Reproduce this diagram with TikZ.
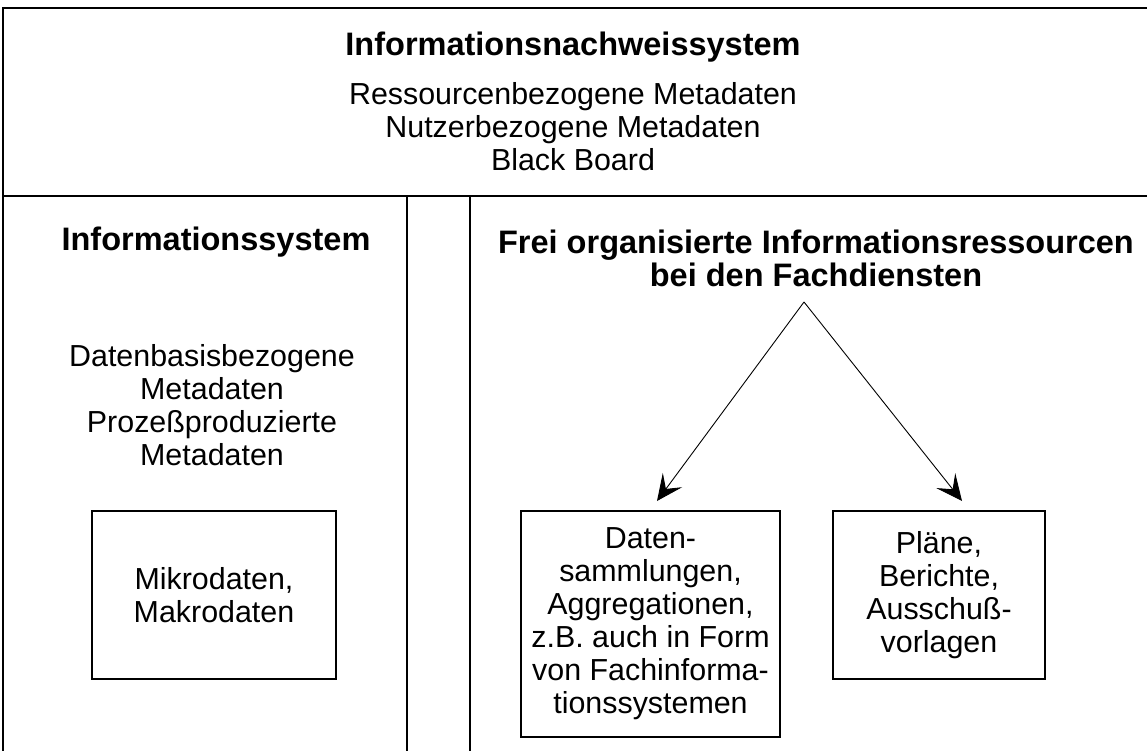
\documentclass[tikz,border=0pt]{standalone}
\usepackage{fontspec}
\setmainfont{Liberation Sans}
\usetikzlibrary{arrows.meta}
\begin{document}
\begin{tikzpicture}[x=1pt,y=-1pt,
  frame/.style={line width=1.4pt},
  txt/.style={inner sep=0pt,align=center,font=\fontsize{30.4}{33}\selectfont},
  btxt/.style={inner sep=0pt,align=center,font=\fontsize{32.5}{33}\selectfont\bfseries},
  boxnode/.style={draw,line width=1.3pt,inner sep=0pt,align=center,font=\fontsize{30.4}{33}\selectfont},
  arr/.style={line width=0.9pt,-{Stealth[length=26pt,width=24pt,inset=11pt]}}]
\useasboundingbox (0,0) rectangle (1147,751);
% frame
\draw[frame] (1147,8) -- (3,8) -- (3,751);
\draw[frame] (3,196) -- (1147,196);
\draw[frame] (407,196) -- (407,751);
\draw[frame] (470,196) -- (470,751);
% top
\node[btxt] (title) at (573,47) {Informationsnachweissystem};
\node[txt] (meta) at (573,127) {Ressourcenbezogene Metadaten\\Nutzerbezogene Metadaten\\Black Board};
% left
\node[btxt] (is) at (216,242) {Informationssystem};
\node[txt] (isMeta) at (212,405) {Datenbasisbezogene\\Metadaten\\Prozeßproduzierte\\Metadaten};
\node[boxnode,minimum width=244pt,minimum height=168pt] (mikro) at (214,595) {Mikrodaten,\\Makrodaten};
% right
\node[btxt] (frei) at (816,258) {Frei organisierte Informationsressourcen\\bei den Fachdiensten};
\coordinate (apex) at (804,302);
\node[boxnode,minimum width=259pt,minimum height=226pt] (daten) at (650.5,624)
  {Daten-\\sammlungen,\\Aggregationen,\\z.B. auch in Form\\von Fachinforma-\\tionssystemen};
\node[boxnode,minimum width=212pt,minimum height=168pt] (plaene) at (939,595)
  {Pläne,\\Berichte,\\Ausschuß-\\vorlagen};
\coordinate (tipL) at (657,501);
\coordinate (tipR) at (962,501);
\draw[arr] (apex) -- (tipL);
\draw[arr] (apex) -- (tipR);
\end{tikzpicture}
\end{document}
